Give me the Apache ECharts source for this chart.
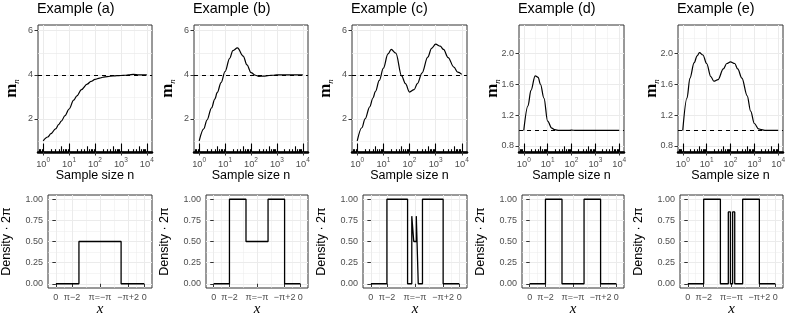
<!DOCTYPE html>
<html>
<head>
<meta charset="utf-8">
<script src="https://cdn.jsdelivr.net/npm/echarts@6/dist/echarts.min.js"></script>
<style>
html, body { margin: 0; padding: 0; background: #fff; }
#chart { width: 789px; height: 323px; }
</style>
</head>
<body>
<div id="chart"></div>
<script>
const PI = Math.PI

// ---- data ----
const titles = ['Example (a)', 'Example (b)', 'Example (c)', 'Example (d)', 'Example (e)']

const sampleN = [1, 1.5, 2, 3, 4, 5, 7, 10, 15, 20, 30, 50, 70, 100, 150, 200, 300, 500, 700, 1000, 1500, 2000, 3000, 5000, 7000, 10000]
const mA = [1.0, 1.18, 1.33, 1.55, 1.75, 1.9, 2.15, 2.45, 2.85, 3.05, 3.33, 3.58, 3.7, 3.79, 3.85, 3.89, 3.92, 3.95, 3.96, 3.97, 3.98, 4.0, 4.02, 4.0, 4.0, 4.0]
const mB = [1.0, 1.55, 1.95, 2.5, 2.9, 3.2, 3.65, 4.15, 4.75, 5.1, 5.22, 4.85, 4.45, 4.1, 3.98, 3.93, 3.94, 3.97, 3.98, 4.0, 4.0, 4.0, 4.0, 4.0, 4.0, 4.0]
const mC = [1.0, 1.6, 2.0, 2.55, 2.95, 3.25, 3.75, 4.3, 4.95, 5.15, 4.98, 3.95, 3.6, 3.22, 3.33, 3.6, 4.08, 4.8, 5.2, 5.39, 5.3, 5.15, 4.78, 4.35, 4.12, 4.02]
const mD = [1.0, 1.32, 1.52, 1.71, 1.69, 1.6, 1.42, 1.12, 1.03, 1.01, 1.0, 1.0, 1.0, 1.005, 1.0, 1.0, 1.0, 1.0, 1.0, 1.0, 1.0, 1.0, 1.0, 1.0, 1.0, 1.0]
const mE = [1.0, 1.42, 1.68, 1.88, 1.97, 2.01, 1.98, 1.87, 1.7, 1.64, 1.66, 1.8, 1.87, 1.89, 1.87, 1.8, 1.68, 1.45, 1.25, 1.09, 1.02, 1.01, 1.0, 1.0, 1.0, 1.0]
const mAll = [mA, mB, mC, mD, mE]
const refLines = [4, 4, 4, 1, 1]

// densities (times 2pi): breakpoints on [0, 2pi] and the level between them
const densBreaksA = [0, PI - 1.5, PI + 1.5, 2 * PI]
const densLevelsA = [0, 0.5, 0]
const densBreaksB = [0, PI - 2, PI - 0.8, PI + 0.8, PI + 2, 2 * PI]
const densLevelsB = [0, 1, 0.5, 1, 0]
const densBreaksC = [0, PI - 2, PI - 0.53, PI - 0.23, PI - 0.09, PI + 0.09, PI + 0.23, PI + 0.53, PI + 2, 2 * PI]
const densLevelsC = [0, 1, 0, 0.8, 0.5, 0.8, 0, 1, 0]
const densBreaksD = [0, PI - 2, PI - 0.8, PI + 0.8, PI + 2, 2 * PI]
const densLevelsD = [0, 1, 0, 1, 0]
const densBreaksE = [0, PI - 2, PI - 0.8, PI - 0.23, PI - 0.08, PI + 0.08, PI + 0.23, PI + 0.8, PI + 2, 2 * PI]
const densLevelsE = [0, 1, 0, 0.85, 0, 0.85, 0, 1, 0]
const densBreaks = [densBreaksA, densBreaksB, densBreaksC, densBreaksD, densBreaksE]
const densLevels = [densLevelsA, densLevelsB, densLevelsC, densLevelsD, densLevelsE]

// ticks
const decades = [1, 10, 100, 1000, 10000]
const yTicksAC = [2, 4, 6]
const yTicksDE = [0.8, 1.2, 1.6, 2.0]
const densXTicks = [0, PI - 2, PI, PI + 2, 2 * PI]
const densXLabels = ['0', 'π\u22122', 'π=\u2212π', '\u2212π+2', '0']
const densYTicks = [0, 0.25, 0.5, 0.75, 1]

// ---- layout ----
const panelRight = [152, 308, 467, 624, 783]
const topLeft = [38, 194, 352, 519, 678]
const botLeft = [48, 206, 363, 522, 680]
const FONT = 'Liberation Sans'
const GRID_COL = '#EBEBEB'
const LOG_MIN = Math.pow(10, -0.2)
const LOG_MAX = Math.pow(10, 4.2)

// midpoints between major breaks -> minor grid lines
const mids = (arr) => arr.slice(1).map((v, i) => (v + arr[i]) / 2)
const minorDecades = decades.slice(1).map((d, i) => Math.sqrt(d * decades[i]))

// annotation_logticks style ticks
const logLong = decades
const logMid = decades.map(d => 5 * d).filter(v => v <= LOG_MAX)
let logShort = []
;[0.1, 1, 10, 100, 1000].forEach(d => {
  [2, 3, 4, 6, 7, 8, 9].forEach(k => {
    if (k * d >= LOG_MIN && k * d <= LOG_MAX) logShort.push(k * d)
  })
})

let grids = []
let xAxes = []
let yAxes = []
let series = []
let titleList = []

const tickLabel = { color: '#4D4D4D', fontSize: 9, fontFamily: FONT }

function gridSplit(width) {
  return { show: true, lineStyle: { color: GRID_COL, width: width } }
}

function minorAxis(base, values) {
  return Object.assign({
    axisLine: { show: false },
    axisTick: { show: false, customValues: values },
    axisLabel: { show: false },
    splitLine: gridSplit(0.5)
  }, base)
}

function addTopPanel(i) {
  const g = grids.length
  grids.push({
    left: topLeft[i], top: 25, width: panelRight[i] - topLeft[i], height: 127,
    show: true, borderColor: '#333333', borderWidth: 1, backgroundColor: 'transparent',
    outerBoundsMode: 'none'
  })
  titleList.push({
    text: titles[i], left: topLeft[i] - 1, top: 2, padding: 0,
    textStyle: { fontSize: 14.4, fontWeight: 'normal', color: '#000', fontFamily: FONT }
  })

  const xBase = { type: 'log', logBase: 10, gridIndex: g, position: 'bottom', min: LOG_MIN, max: LOG_MAX }
  const xi = xAxes.length
  xAxes.push(Object.assign({}, xBase, {
    name: 'Sample size n', nameLocation: 'middle', nameGap: 17, nameMoveOverlap: false,
    nameTextStyle: { color: '#000', fontSize: 12.5, fontFamily: FONT },
    axisLine: { show: false },
    axisTick: { show: true, length: 3.5, customValues: decades, lineStyle: { color: '#333333', width: 1 } },
    axisLabel: {
      customValues: decades, margin: 5,
      formatter: v => '{b|10}{s|' + Math.round(Math.log10(v)) + '}',
      rich: {
        b: { color: '#4D4D4D', fontSize: 9.3, fontFamily: FONT, lineHeight: 12, verticalAlign: 'bottom' },
        s: { color: '#4D4D4D', fontSize: 6.5, fontFamily: FONT, lineHeight: 6, verticalAlign: 'top' }
      }
    },
    splitLine: gridSplit(1)
  }))
  xAxes.push(minorAxis(Object.assign({}, xBase), minorDecades))
  // log ticks along the bottom
  ;[[logLong, 8.5], [logMid, 5.7], [logShort, 2.8]].forEach(([vals, len], k) => {
    xAxes.push(Object.assign({}, xBase, {
      axisLine: { show: k === 0, lineStyle: { color: '#000', width: 2.5 } },
      axisTick: { show: true, inside: true, length: len, customValues: vals, lineStyle: { color: '#000', width: 1.1 } },
      axisLabel: { show: false },
      splitLine: { show: false }
    }))
  })

  const wide = i < 3
  const yTicks = wide ? yTicksAC : yTicksDE
  const yBase = {
    type: 'value', gridIndex: g, position: 'left',
    min: wide ? 0.5 : 0.72, max: wide ? 6.26 : 2.37
  }
  const yi = yAxes.length
  yAxes.push(Object.assign({}, yBase, {
    name: '{m|m}{n|n}', nameLocation: 'middle', nameGap: 19, nameRotate: 90, nameMoveOverlap: false,
    nameTextStyle: {
      rich: {
        m: { fontFamily: 'Liberation Serif', fontWeight: 'bold', fontSize: 17, color: '#000', lineHeight: 16, verticalAlign: 'top' },
        n: { fontFamily: 'Liberation Serif', fontStyle: 'italic', fontSize: 9, color: '#000', lineHeight: 9, padding: [9, 0, 0, 0], verticalAlign: 'top' }
      }
    },
    axisLine: { show: false },
    axisTick: { show: true, length: 3.5, customValues: yTicks, lineStyle: { color: '#333333' } },
    axisLabel: Object.assign({ customValues: yTicks, margin: 5, formatter: v => wide ? String(v) : v.toFixed(1) }, tickLabel),
    splitLine: gridSplit(1)
  }))
  yAxes.push(minorAxis(Object.assign({}, yBase), mids(yTicks).concat(wide ? [1, 5] : [1.0, 2.2])))

  series.push({
    type: 'line', xAxisIndex: xi, yAxisIndex: yi,
    data: sampleN.map((n, k) => [n, mAll[i][k]]),
    symbol: 'none', smooth: 0.35, smoothMonotone: 'x',
    lineStyle: { color: '#000', width: 1.2 },
    silent: true, animation: false,
    markLine: {
      silent: true, symbol: ['none', 'none'], label: { show: false }, animation: false,
      lineStyle: { color: '#000', type: [4, 4], width: 1 },
      data: [{ yAxis: refLines[i] }]
    }
  })
}

function addBottomPanel(i) {
  const g = grids.length
  grids.push({
    left: botLeft[i], top: 195, width: panelRight[i] - botLeft[i], height: 93,
    show: true, borderColor: '#333333', borderWidth: 1, backgroundColor: 'transparent',
    outerBoundsMode: 'none'
  })
  const xBase = { type: 'value', gridIndex: g, position: 'bottom', min: -0.56, max: 6.84 }
  const xi = xAxes.length
  xAxes.push(Object.assign({}, xBase, {
    name: 'x', nameLocation: 'middle', nameGap: 14, nameMoveOverlap: false,
    nameTextStyle: { color: '#000', fontSize: 15, fontFamily: 'Liberation Serif', fontStyle: 'italic' },
    axisLine: { show: false },
    axisTick: { show: true, length: 3.5, customValues: densXTicks, lineStyle: { color: '#333333' } },
    axisLabel: Object.assign({
      customValues: densXTicks, margin: 5, showMinLabel: true, showMaxLabel: true,
      formatter: v => {
        let best = 0
        densXTicks.forEach((t, k) => { if (Math.abs(t - v) < Math.abs(densXTicks[best] - v)) best = k })
        return densXLabels[best]
      }
    }, tickLabel),
    splitLine: gridSplit(1)
  }))
  xAxes.push(minorAxis(Object.assign({}, xBase), mids(densXTicks)))

  const yBase = { type: 'value', gridIndex: g, position: 'left', min: -0.05, max: 1.05 }
  const yi = yAxes.length
  yAxes.push(Object.assign({}, yBase, {
    name: 'Density \u00b7 2π', nameLocation: 'middle', nameGap: 35, nameRotate: 90, nameMoveOverlap: false,
    nameTextStyle: { color: '#000', fontSize: 12.5, fontFamily: FONT },
    axisLine: { show: false },
    axisTick: { show: true, length: 3.5, customValues: densYTicks, lineStyle: { color: '#333333' } },
    axisLabel: Object.assign({ customValues: densYTicks, margin: 5, formatter: v => v.toFixed(2) }, tickLabel),
    splitLine: gridSplit(1)
  }))
  yAxes.push(minorAxis(Object.assign({}, yBase), mids(densYTicks)))

  const br = densBreaks[i]
  const lv = densLevels[i]
  let pts = lv.map((l, k) => [br[k], l])
  pts.push([br[br.length - 1], lv[lv.length - 1]])
  series.push({
    type: 'line', xAxisIndex: xi, yAxisIndex: yi, data: pts,
    step: 'end', symbol: 'none',
    lineStyle: { color: '#000', width: 1.3 },
    silent: true, animation: false
  })
}

for (let i = 0; i < 5; i++) addTopPanel(i)
for (let i = 0; i < 5; i++) addBottomPanel(i)

let myChart = echarts.init(document.getElementById('chart'), null, { renderer: 'canvas' })
let option = {
  backgroundColor: '#fff',
  animation: false,
  title: titleList,
  grid: grids,
  xAxis: xAxes,
  yAxis: yAxes,
  series: series
}
myChart.setOption(option)
</script>
</body>
</html>
